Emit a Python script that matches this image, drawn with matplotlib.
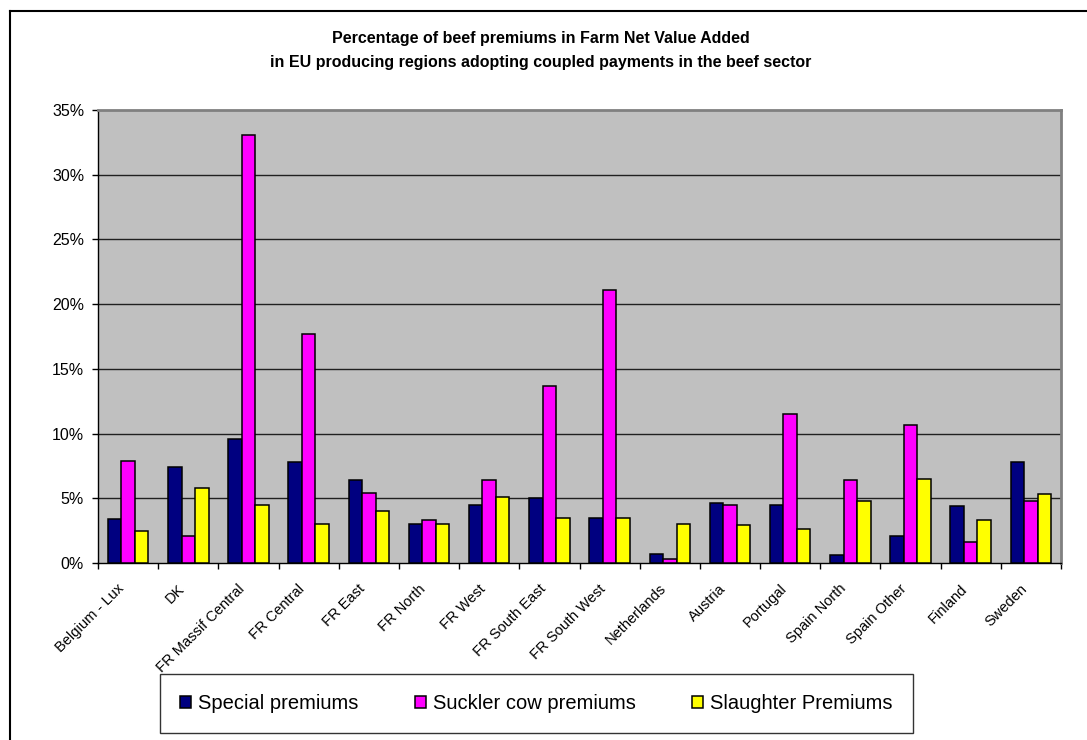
import matplotlib
matplotlib.use("Agg")
import matplotlib.pyplot as plt
from matplotlib.lines import Line2D
from matplotlib.transforms import ScaledTranslation
from matplotlib.ticker import FuncFormatter, FixedLocator
import numpy as np

plt.rcParams['font.family'] = ['Liberation Sans', 'DejaVu Sans']

regions = ["Belgium - Lux", "DK", "FR Massif Central", "FR Central", "FR East",
           "FR North", "FR West", "FR South East", "FR South West", "Netherlands",
           "Austria", "Portugal", "Spain North", "Spain Other", "Finland", "Sweden"]

special = [3.4, 7.4, 9.6, 7.8, 6.4, 3.0, 4.5, 5.0, 3.5, 0.7, 4.6, 4.5, 0.6, 2.1, 4.4, 7.8]
suckler = [7.9, 2.1, 33.1, 17.7, 5.4, 3.3, 6.4, 13.7, 21.1, 0.3, 4.5, 11.5, 6.4, 10.7, 1.6, 4.8]
slaughter = [2.5, 5.8, 4.5, 3.0, 4.0, 3.0, 5.1, 3.5, 3.5, 3.0, 2.9, 2.6, 4.8, 6.5, 3.3, 5.3]

series_names = ["Special premiums", "Suckler cow premiums", "Slaughter Premiums"]
series_colors = ["#000080", "#FF00FF", "#FFFF00"]

W, H = 1087, 740
fig = plt.figure(figsize=(W / 100, H / 100), dpi=100)
fig.patch.set_facecolor("white")

ax = fig.add_axes([98 / W, 1 - 563 / H, (1061 - 98) / W, (563 - 110) / H])
ax.set_facecolor("#C0C0C0")

x = np.arange(len(regions))
bw = 0.224
for i, (vals, name, col) in enumerate(zip([special, suckler, slaughter], series_names, series_colors)):
    ax.bar(x + (i - 1) * bw, vals, width=bw, color=col, edgecolor="black",
           linewidth=1.1, label=name, zorder=3)

ax.set_xlim(-0.5, len(regions) - 0.5)
ax.set_ylim(0, 35)
ax.set_yticks(np.arange(0, 36, 5))
ax.yaxis.set_major_formatter(FuncFormatter(lambda v, p: f"{v:.0f}%"))
ax.tick_params(axis="y", direction="out", length=4, width=1, labelsize=11.5, pad=6)

for yv in range(5, 35, 5):
    ax.axhline(yv, color="#202020", linewidth=1, zorder=1)

# group separators as major ticks, region names on minor ticks
ax.xaxis.set_major_locator(FixedLocator(np.arange(-0.5, len(regions), 1.0)))
ax.xaxis.set_minor_locator(FixedLocator(x))
ax.set_xticklabels([], minor=False)
ax.set_xticklabels(regions, minor=True, rotation=45, ha="right", va="center",
                   rotation_mode="anchor", fontsize=10.5)
ax.tick_params(axis="x", which="major", direction="out", length=4, width=1)
ax.tick_params(axis="x", which="minor", length=0, pad=17)
shift = ScaledTranslation(-6 / 100, 0, fig.dpi_scale_trans)
for lab in ax.get_xticklabels(minor=True):
    lab.set_transform(lab.get_transform() + shift)

for side in ("left", "bottom"):
    ax.spines[side].set_color("black")
    ax.spines[side].set_linewidth(1)
for side in ("top", "right"):
    ax.spines[side].set_color("#808080")
    ax.spines[side].set_linewidth(2)

fig.text(541 / W, 1 - 38 / H, "Percentage of beef premiums in Farm Net Value Added",
         ha="center", va="center", fontsize=11.5, fontweight="bold")
fig.text(541 / W, 1 - 63 / H, "in EU producing regions adopting coupled payments in the beef sector",
         ha="center", va="center", fontsize=11.5, fontweight="bold")

leg = fig.legend(loc="center", bbox_to_anchor=(536.5 / W, 1 - 703.5 / H), ncol=3,
                 fontsize=14.5, frameon=True, fancybox=False, edgecolor="black",
                 handlelength=0.55, handleheight=0.55, handletextpad=0.35,
                 columnspacing=2.8, borderpad=1.0)
leg.get_frame().set_linewidth(1)

# outer chart frame
fig.add_artist(Line2D([10 / W, 10 / W], [0, 1 - 11 / H], color="black", linewidth=1.5,
                      transform=fig.transFigure))
fig.add_artist(Line2D([10 / W, 1], [1 - 11 / H, 1 - 11 / H], color="black", linewidth=1.5,
                      transform=fig.transFigure))

fig.savefig("out.png", dpi=100, facecolor="white")
